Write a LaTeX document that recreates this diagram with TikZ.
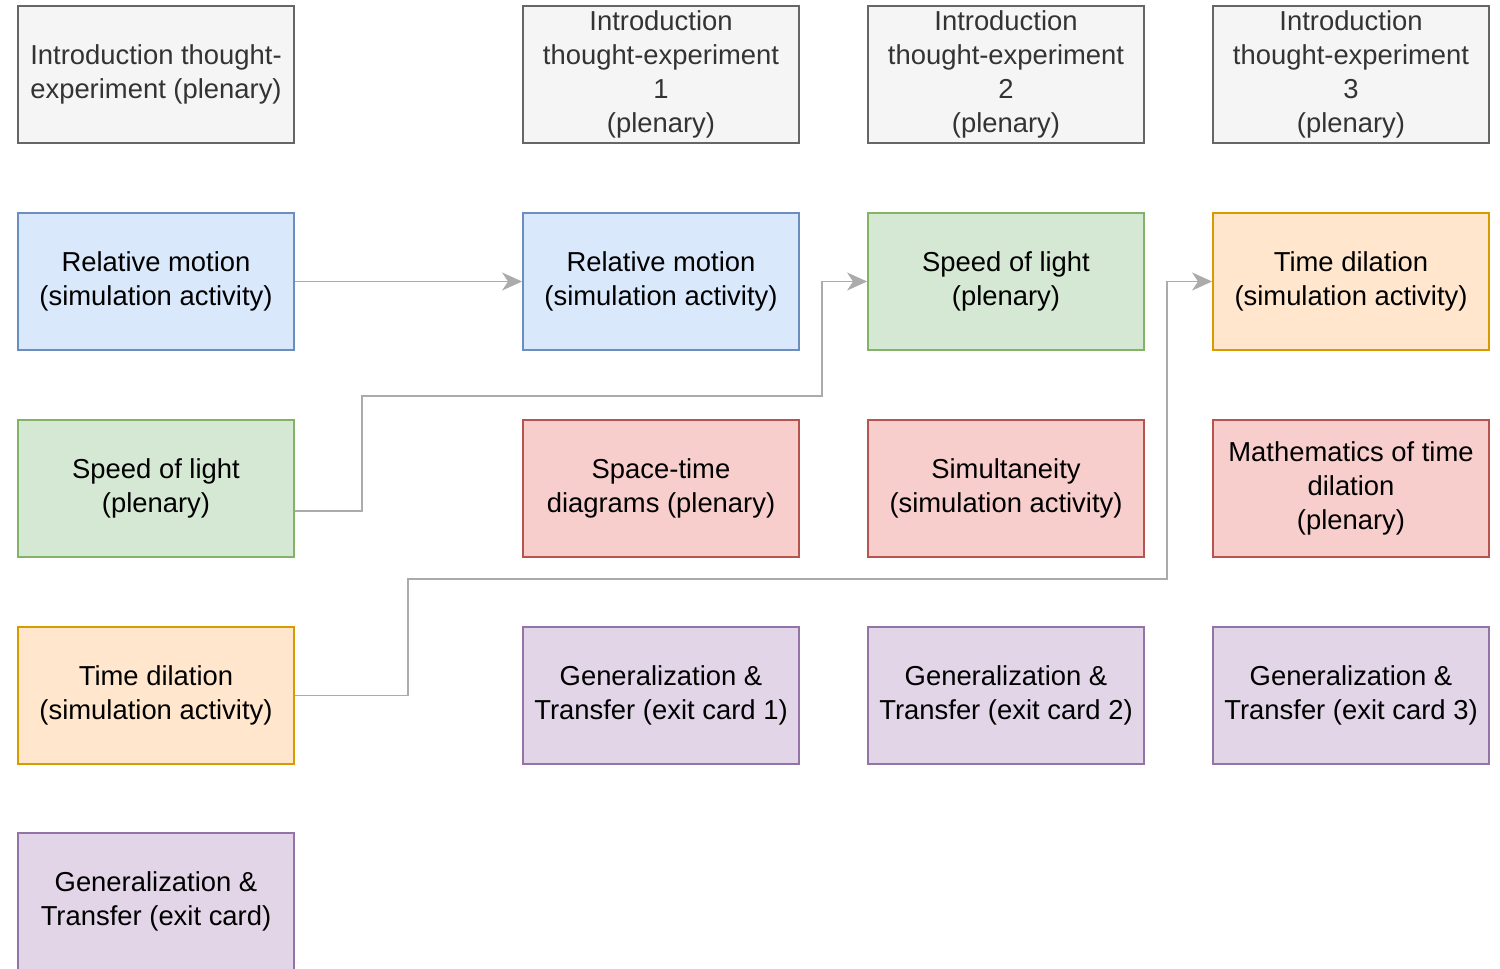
\documentclass[tikz,border=0pt]{standalone}
\usepackage{fontspec}
\setmainfont{Liberation Sans}
\usetikzlibrary{arrows.meta}
\definecolor{introfill}{HTML}{F5F5F5}\definecolor{introline}{HTML}{666666}\definecolor{introtext}{HTML}{333333}
\definecolor{relfill}{HTML}{DAE8FC}\definecolor{relline}{HTML}{6C8EBF}
\definecolor{solfill}{HTML}{D5E8D4}\definecolor{solline}{HTML}{82B366}
\definecolor{tdfill}{HTML}{FFE6CC}\definecolor{tdline}{HTML}{D79B00}
\definecolor{plenfill}{HTML}{F8CECC}\definecolor{plenline}{HTML}{B85450}
\definecolor{genfill}{HTML}{E1D5E7}\definecolor{genline}{HTML}{9673A6}
\definecolor{linkgray}{HTML}{ABABAB}
\begin{document}
\begin{tikzpicture}[x=0.02cm,y=-0.02cm,
    card/.style={draw,line width=1.1pt,minimum width=5.52cm,minimum height=2.74cm,inner sep=0pt,align=center,font=\fontsize{15.6}{19.3}\selectfont},
    intro/.style={card,draw=introline,fill=introfill,text=introtext},
    rel/.style={card,draw=relline,fill=relfill},
    sol/.style={card,draw=solline,fill=solfill},
    td/.style={card,draw=tdline,fill=tdfill},
    plen/.style={card,draw=plenline,fill=plenfill},
    gen/.style={card,draw=genline,fill=genfill},
    link/.style={draw=linkgray,line width=1.1pt,-{Stealth[length=0.4cm,width=0.36cm,inset=0.12cm]}}]
    \clip (0,0) rectangle (1500,969);
    % first column
    \node[intro] (intro0) at (156,74.5) {Introduction thought-\\experiment (plenary)};
    \node[rel] (rel0) at (156,281.5) {Relative motion\\(simulation activity)};
    \node[sol] (sol0) at (156,488.5) {Speed of light\\(plenary)};
    \node[td] (td0) at (156,695.5) {Time dilation\\(simulation activity)};
    \node[gen] (gen0) at (156,901.5) {Generalization \&\\Transfer (exit card)};
    % thought-experiments
    \foreach \x [count=\j from 1] in {661,1006,1351}
        \node[intro] (intro\j) at (\x,74.5) {Introduction\\thought-experiment\\\j\\(plenary)};
    \node[rel] (rel1) at (661,281.5) {Relative motion\\(simulation activity)};
    \node[sol] (sol1) at (1006,281.5) {Speed of light\\(plenary)};
    \node[td] (td1) at (1351,281.5) {Time dilation\\(simulation activity)};
    \node[plen] (st1) at (661,488.5) {Space-time\\diagrams (plenary)};
    \node[plen] (sim2) at (1006,488.5) {Simultaneity\\(simulation activity)};
    \node[plen] (math3) at (1351,488.5) {Mathematics of time\\dilation\\(plenary)};
    \foreach \x [count=\j from 1] in {661,1006,1351}
        \node[gen] (gen\j) at (\x,695.5) {Generalization \&\\Transfer (exit card \j)};
    % moves
    \path[link] (rel0) -- (rel1);
    \path[link] ([yshift=-0.45cm]sol0.east) -| (362,396) -| (822,281.5) -- (sol1.west);
    \path[link] (td0.east) -| (408,579) -| (1167,281.5) -- (td1.west);
\end{tikzpicture}
\end{document}
